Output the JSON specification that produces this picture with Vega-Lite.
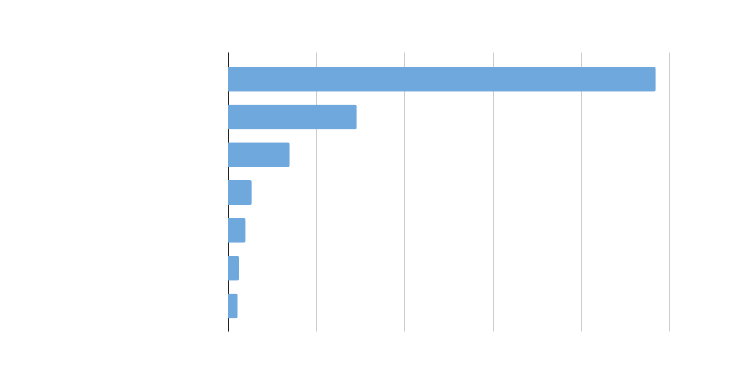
{
  "$schema": "https://vega.github.io/schema/vega-lite/v6.json",
  "width": 441,
  "height": 279,
  "autosize": "none",
  "padding": {"left": 228, "top": 52, "right": 62, "bottom": 51},
  "background": "white",
  "config": {"view": {"stroke": null}},
  "data": {"values": [
    {"category": "A", "value": 4.85},
    {"category": "B", "value": 1.46},
    {"category": "C", "value": 0.70},
    {"category": "D", "value": 0.27},
    {"category": "E", "value": 0.20},
    {"category": "F", "value": 0.125},
    {"category": "G", "value": 0.11}
  ]},
  "mark": {"type": "bar", "color": "#6FA8DC", "cornerRadiusEnd": 2},
  "encoding": {
    "y": {
      "field": "category", "type": "nominal", "sort": null,
      "scale": {"paddingInner": 0.34, "paddingOuter": 0.36, "align": 0.54},
      "axis": {"title": null, "labels": false, "ticks": false, "domain": true, "domainColor": "#222222", "domainWidth": 1, "grid": false}
    },
    "x": {
      "field": "value", "type": "quantitative",
      "scale": {"domain": [0, 5], "nice": false},
      "axis": {"title": null, "labels": false, "ticks": false, "domain": false, "grid": true, "gridColor": "#cccccc", "gridWidth": 1, "values": [0, 1, 2, 3, 4, 5]}
    }
  }
}
